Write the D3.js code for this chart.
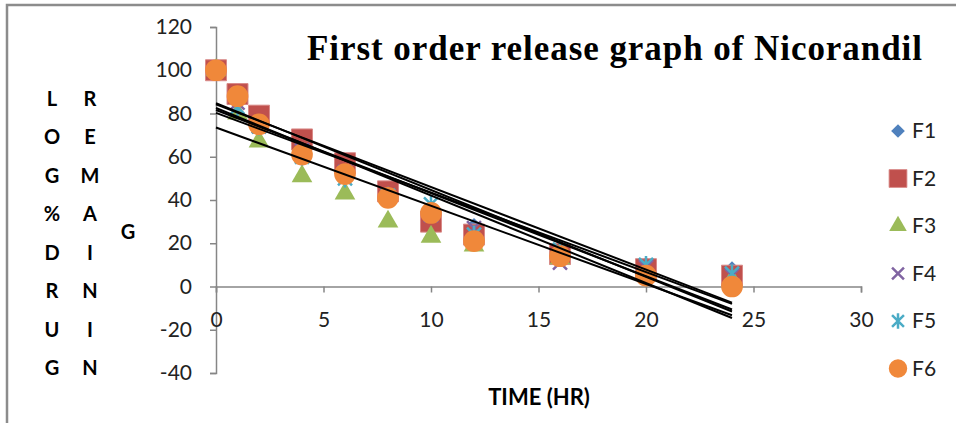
<!DOCTYPE html>
<html>
<head>
<meta charset="utf-8">
<script src="https://cdn.jsdelivr.net/npm/d3@7"></script>
<style>
  body { margin: 0; background: #fff; }
  svg { display: block; }
</style>
</head>
<body>
<svg width="956" height="423"></svg>
<script>
var times = [0, 1, 2, 4, 6, 8, 10, 12, 16, 20, 24];
var seriesNames = ['F1', 'F2', 'F3', 'F4', 'F5', 'F6'];
var f1 = [100, 88, 78, 67, 56, 45, 35, 28, 18, 10, 8];
var f2 = [100, 89, 79, 68, 57, 44, 30, 24, 15, 8, 5];
var f3 = [100, 80, 67, 51, 43, 30, 23, 19, 13, 7, 3];
var f4 = [100, 85, 74, 63, 53, 42, 33, 27, 11, 9, 5];
var f5 = [100, 83, 74, 60, 50, 42, 38, 24, 17, 10, 6];
var f6 = [100, 88, 75, 61, 52, 41, 34, 21, 14, 5, 0];
var yTicks = [-40, -20, 0, 20, 40, 60, 80, 100, 120];
var xTicks = [0, 5, 10, 15, 20, 25, 30];
var yLabelCol1 = ['L', 'O', 'G', '%', 'D', 'R', 'U', 'G'];
var yLabelCol2 = ['R', 'E', 'M', 'A', 'I', 'N', 'I', 'N'];

var allSeries = [f1, f2, f3, f4, f5, f6];
var colors = ['#4F81BD', '#C0504D', '#9BBB59', '#8064A2', '#4BACC6', '#F0883A'];
var shapes = ['diamond', 'square', 'triangle', 'x', 'star', 'circle'];

var svg = d3.select('svg');
var font = 'Lato, "Open Sans", sans-serif';
var axisColor = '#868686';
var fs = 21;

// outer frame (partly cropped)
svg.append('path')
  .attr('d', 'M7,423 V5 H956')
  .attr('fill', 'none')
  .attr('stroke', '#8c8c8c')
  .attr('stroke-width', 2.5);

var x = d3.scaleLinear().domain([0, 30]).range([216, 861]);
var y = d3.scaleLinear().domain([-40, 120]).range([373, 27]);
var plain = function(d) { return String(d); };

// y axis
var yAxis = svg.append('g')
  .attr('transform', 'translate(' + x(0) + ',0)')
  .call(d3.axisLeft(y).tickValues(yTicks).tickFormat(plain).tickSize(6).tickPadding(18));
yAxis.select('.domain').attr('stroke', axisColor).attr('stroke-width', 1.5);
yAxis.selectAll('line').attr('stroke', axisColor).attr('stroke-width', 1.5);
yAxis.selectAll('text').attr('font-family', font).attr('font-size', fs).attr('fill', '#222');

// x axis on zero line
var xAxis = svg.append('g')
  .attr('transform', 'translate(0,' + y(0) + ')')
  .call(d3.axisBottom(x).tickValues(xTicks).tickFormat(plain).tickSizeOuter(6).tickSize(6).tickPadding(20));
xAxis.select('.domain').attr('stroke', axisColor).attr('stroke-width', 1.5);
xAxis.selectAll('line').attr('stroke', axisColor).attr('stroke-width', 1.5);
xAxis.selectAll('text').attr('font-family', font).attr('font-size', fs).attr('fill', '#222');

// symbols
function symbolPath(shape) {
  if (shape === 'diamond') return d3.symbol().type(d3.symbolSquare).size(130)();
  if (shape === 'square') return d3.symbol().type(d3.symbolSquare).size(440)();
  if (shape === 'triangle') return d3.symbol().type(d3.symbolTriangle).size(185)();
  if (shape === 'circle') return d3.symbol().type(d3.symbolCircle).size(370)();
  if (shape === 'x') return 'M-7,-7L7,7M-7,7L7,-7';
  if (shape === 'star') return 'M-7,-7L7,7M-7,7L7,-7M0,-9V9';
  return '';
}
function drawMarker(g, shape, color, k) {
  var p = g.append('path').attr('d', symbolPath(shape));
  if (shape === 'x' || shape === 'star') {
    p.attr('fill', 'none').attr('stroke', color).attr('stroke-width', 2.5 / k);
  } else {
    p.attr('fill', color);
    if (shape === 'square') p.attr('stroke', '#d98a88').attr('stroke-width', 1);
  }
  p.attr('transform', 'scale(' + k + ')' + (shape === 'diamond' ? ' rotate(45)' : ''));
  return p;
}

var markers = svg.append('g');
allSeries.forEach(function(vals, s) {
  vals.forEach(function(v, i) {
    var g = markers.append('g')
      .attr('transform', 'translate(' + x(times[i]) + ',' + y(v) + ')');
    drawMarker(g, shapes[s], colors[s], 1);
  });
});

// linear trend lines
var lines = svg.append('g');
allSeries.forEach(function(vals) {
  var mx = d3.mean(times), my = d3.mean(vals);
  var sxy = d3.sum(times, function(t, i) { return (t - mx) * (vals[i] - my); });
  var sxx = d3.sum(times, function(t) { return (t - mx) * (t - mx); });
  var slope = sxy / sxx, icpt = my - slope * mx;
  var pts = [0, 24].map(function(t) { return [x(t), y(icpt + slope * t)]; });
  lines.append('path')
    .attr('d', d3.line()(pts))
    .attr('stroke', '#000')
    .attr('stroke-width', 2)
    .attr('fill', 'none');
});

// title
svg.append('text')
  .attr('x', 307).attr('y', 60)
  .attr('textLength', 615)
  .attr('lengthAdjust', 'spacing')
  .attr('font-family', '"Liberation Serif", "Times New Roman", serif')
  .attr('font-weight', 'bold')
  .attr('font-size', 35)
  .text('First order release graph of Nicorandil');

// x axis title
svg.append('text')
  .attr('x', 539).attr('y', 405)
  .attr('text-anchor', 'middle')
  .attr('font-family', font)
  .attr('font-weight', 'bold')
  .attr('font-size', 22)
  .text('TIME (HR)');

// y axis title in letter columns
var letterY = d3.scaleLinear().domain([0, 7]).range([99, 368]);
[yLabelCol1, yLabelCol2].forEach(function(col, c) {
  col.forEach(function(ch, i) {
    svg.append('text')
      .attr('x', c === 0 ? 52 : 90)
      .attr('y', letterY(i))
      .attr('dy', '0.35em')
      .attr('text-anchor', 'middle')
      .attr('font-family', font)
      .attr('font-weight', 'bold')
      .attr('font-size', 20)
      .text(ch);
  });
});
svg.append('text')
  .attr('x', 128).attr('y', 232).attr('dy', '0.35em')
  .attr('text-anchor', 'middle')
  .attr('font-family', font).attr('font-weight', 'bold').attr('font-size', 20)
  .text('G');

// legend
var legend = svg.append('g');
seriesNames.forEach(function(name, i) {
  var g = legend.append('g').attr('transform', 'translate(898,' + (131 + i * 47.5) + ')');
  drawMarker(g, shapes[i], colors[i], 0.85);
  g.append('text')
    .attr('x', 14).attr('dy', '0.35em')
    .attr('font-family', font).attr('font-size', fs).attr('fill', '#222')
    .text(name);
});
</script>
</body>
</html>
